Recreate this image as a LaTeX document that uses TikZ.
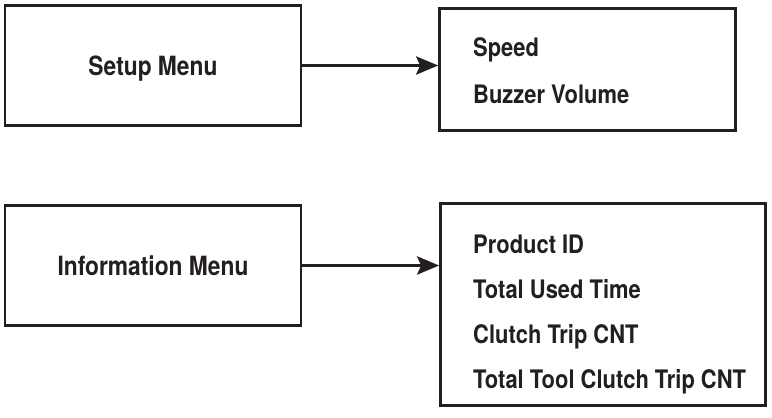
\documentclass[tikz,border=0pt]{standalone}
\usepackage{fontspec}
\newfontfamily\menufont{TeX Gyre Heros}[FakeStretch=0.86]
\usepackage{tikz}
\usetikzlibrary{arrows.meta,positioning}
\definecolor{ink}{HTML}{231F20}
\tikzset{
  menubox/.style={draw=ink,line width=2.6pt,rectangle,minimum width=296pt,minimum height=120pt,
    text height=19pt,text depth=0pt,inner sep=0pt,text=ink,font=\menufont\bfseries\fontsize{26.5}{30}\selectfont},
  listbox/.style={draw=ink,line width=2.6pt,rectangle,inner sep=0pt},
  item/.style={anchor=base west,inner sep=0pt,text=ink},
  goto/.style={draw=ink,line width=3.6pt,-{Stealth[length=22pt,width=18pt,inset=4pt]}}
}

\begin{document}
\begin{tikzpicture}[x=1pt,y=-1pt,font=\menufont\bfseries\fontsize{25.5}{30}\selectfont]
\useasboundingbox (0,0) rectangle (772,418);
% top row
\node[menubox] (setup) at (153,65.5) {Setup Menu};
\node[listbox,minimum width=296pt,minimum height=122pt] (setuplist) at (587.5,69.5) {};
\node[item] (speed) at (473,56) {Speed};
\node[item] (buzzer) at (473,103) {Buzzer Volume};
\draw[goto] (setup.east) -- (setup.east -| setuplist.west);
% bottom row
\node[menubox] (info) at (153,265.5) {Information Menu};
\node[listbox,minimum width=325pt,minimum height=202pt] (infolist) at (603,304.5) {};
\node[item] (prodid) at (473,253) {Product ID};
\node[item] (usedtime) at (473,298) {Total Used Time};
\node[item] (tripcnt) at (473,343) {Clutch Trip CNT};
\node[item] (tooltrip) at (473,388) {Total Tool Clutch Trip CNT};
\draw[goto] (info.east) -- (info.east -| infolist.west);
\end{tikzpicture}
\end{document}
